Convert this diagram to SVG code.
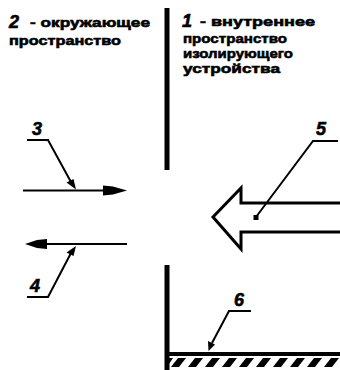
<svg xmlns="http://www.w3.org/2000/svg" width="340" height="370" viewBox="0 0 340 370">
<defs>
<style>
.t{font-family:"Liberation Sans",Arial,sans-serif;font-weight:bold;font-size:13.5px;fill:#000;stroke:#000;stroke-width:0.6}
.n{font-family:"Liberation Sans",Arial,sans-serif;font-weight:bold;font-style:italic;font-size:18px;fill:#000;stroke:#000;stroke-width:0.6}
.ln{stroke:#000;stroke-width:2.2;fill:none}
.ld{stroke:#000;stroke-width:2;fill:none}
.wall{stroke:#000;stroke-width:5;fill:none}
.hd{fill:#000}
</style>
</defs>
<rect width="340" height="370" fill="#fff"/>
<g id="outer-label">
<text class="n" x="9" y="28" font-size="23">2</text>
<text class="t" x="30" y="27" textLength="120" lengthAdjust="spacingAndGlyphs">- окружающее</text>
<text class="t" x="9" y="45" textLength="112" lengthAdjust="spacingAndGlyphs">пространство</text>
</g>
<g id="inner-label">
<text class="n" x="182" y="27" font-size="23">1</text>
<text class="t" x="200" y="26" textLength="115" lengthAdjust="spacingAndGlyphs">- внутреннее</text>
<text class="t" x="183" y="43" textLength="104" lengthAdjust="spacingAndGlyphs">пространство</text>
<text class="t" x="183" y="58" textLength="110" lengthAdjust="spacingAndGlyphs">изолирующего</text>
<text class="t" x="183" y="73" textLength="97" lengthAdjust="spacingAndGlyphs">устройства</text>
</g>
<g id="wall">
<line class="wall" x1="167" y1="8" x2="167" y2="170"/>
<path class="wall" d="M167,265 L167,370"/>
</g>
<g id="floor">
<line x1="165" y1="354" x2="340" y2="354" stroke="#000" stroke-width="4"/>
<g fill="#000">
<path d="M169,367 L169,358 L173,358 L167,367 Z"/>
<path d="M171,367 L178,358 L186,358 L179,367 Z"/>
<path d="M188,367 L195,358 L203,358 L196,367 Z"/>
<path d="M205,367 L212,358 L220,358 L213,367 Z"/>
<path d="M222,367 L229,358 L237,358 L230,367 Z"/>
<path d="M239,367 L246,358 L254,358 L247,367 Z"/>
<path d="M256,367 L263,358 L271,358 L264,367 Z"/>
<path d="M273,367 L280,358 L288,358 L281,367 Z"/>
<path d="M290,367 L297,358 L305,358 L298,367 Z"/>
<path d="M307,367 L314,358 L322,358 L315,367 Z"/>
<path d="M324,367 L331,358 L339,358 L332,367 Z"/>
</g>
</g>
<g id="big-arrow">
<path d="M342,203 L241,203 L241,188 L213,217 L241,249 L241,232 L342,232" fill="#fff" stroke="#000" stroke-width="3" stroke-linejoin="miter"/>
</g>
<g id="arrow-3">
<line class="ln" x1="23" y1="190.5" x2="110" y2="190.5"/>
<path class="hd" d="M103,185.5 L113,186.5 L127,190.5 L113,194.5 L103,195.5 Z"/>
</g>
<g id="arrow-4">
<line class="ln" x1="127" y1="244" x2="40" y2="244"/>
<path class="hd" d="M47,239 L37,240 L25,244 L37,248 L47,249 Z"/>
</g>
<g id="labels">
<text class="n" x="32" y="135">3</text>
<text class="n" x="30" y="292">4</text>
<text class="n" x="316" y="135">5</text>
<text class="n" x="234" y="306">6</text>
</g>
<g id="connectors">
<path class="ld" d="M27,140 L48,140 L71,182"/>
<path class="hd" d="M66.5,182.5 L73.5,179 L76,189.5 Z"/>
<path class="ld" d="M27,297 L48,297 L71,253"/>
<path class="hd" d="M66.5,252.5 L73.5,256 L76,246 Z"/>
<path class="ld" d="M338,141 L313,141 L256,217"/>
<rect x="253.5" y="215" width="5" height="5" class="hd"/>
<path class="ld" d="M251,311 L229,311 L212,343"/>
<path class="hd" d="M208,341 L215,344.5 L208.5,351 Z"/>
</g>
</svg>
